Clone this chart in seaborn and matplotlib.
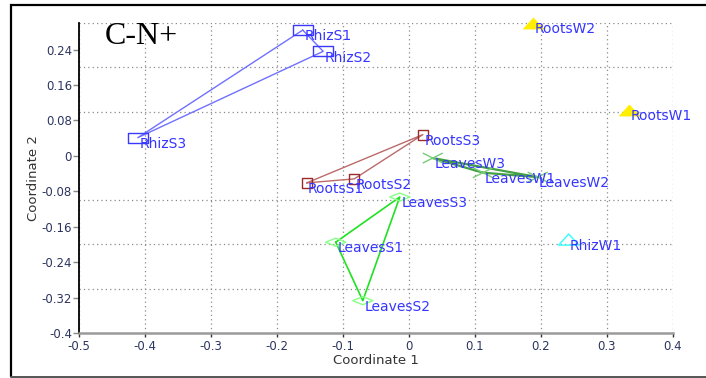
import numpy as np
import pandas as pd
import matplotlib
matplotlib.use("Agg")
import matplotlib.pyplot as plt
from matplotlib.path import Path
from matplotlib.patches import Polygon
from matplotlib.ticker import FixedLocator
import seaborn as sns

# Sample coordinates from the multidimensional scaling (C-N+ treatment)
labels = ["RhizS1", "RhizS2", "RhizS3",
          "RootsS1", "RootsS2", "RootsS3",
          "LeavesS1", "LeavesS2", "LeavesS3",
          "LeavesW1", "LeavesW2", "LeavesW3",
          "RootsW1", "RootsW2", "RhizW1"]
coord1 = [-0.161, -0.130, -0.411,
          -0.155, -0.083, 0.021,
          -0.111, -0.070, -0.014,
          0.112, 0.195, 0.036,
          0.334, 0.188, 0.242]
coord2 = [0.284, 0.236, 0.041,
          -0.061, -0.052, 0.048,
          -0.195, -0.327, -0.093,
          -0.038, -0.048, -0.005,
          0.103, 0.300, -0.189]
groups = ["RhizS"] * 3 + ["RootsS"] * 3 + ["LeavesS"] * 3 + ["LeavesW"] * 3 + \
         ["RootsW", "RootsW", "RhizW"]

x_ticks = [-0.5, -0.4, -0.3, -0.2, -0.1, 0, 0.1, 0.2, 0.3, 0.4]
x_ticklabels = ["-0.5", "-0.4", "-0.3", "-0.2", "-0.1", "0", "0.1", "0.2", "0.3", "0.4"]
y_ticks = [-0.4, -0.32, -0.24, -0.16, -0.08, 0, 0.08, 0.16, 0.24]
y_ticklabels = ["-0.4", "-0.32", "-0.24", "-0.16", "-0.08", "0", "0.08", "0.16", "0.24"]
y_grid = [-0.3, -0.2, -0.1, 0, 0.1, 0.2, 0.3]

df = pd.DataFrame({"label": labels, "c1": coord1, "c2": coord2, "group": groups})

sns.set_theme(style="white")
plt.rcParams["font.family"] = ["DejaVu Sans"]

W, H = 706, 378
fig = plt.figure(figsize=(W / 100, H / 100), dpi=100)
ax = fig.add_axes([79 / W, 1 - 333 / H, (673 - 79) / W, (333 - 23) / H])


# Wide (2:1) marker shapes
def mk(verts, codes=None):
    return Path(np.array(verts, float), codes)


rect = mk([(-1, -0.5), (1, -0.5), (1, 0.5), (-1, 0.5), (-1, -0.5)],
          [Path.MOVETO, Path.LINETO, Path.LINETO, Path.LINETO, Path.CLOSEPOLY])
diamond = mk([(-1, 0), (0, -0.4), (1, 0), (0, 0.4), (-1, 0)],
             [Path.MOVETO, Path.LINETO, Path.LINETO, Path.LINETO, Path.CLOSEPOLY])
cross = mk([(-1, -0.5), (1, 0.5), (-1, 0.5), (1, -0.5)],
           [Path.MOVETO, Path.LINETO, Path.MOVETO, Path.LINETO])
tri = mk([(-1, -0.55), (0, 0.55), (1, -0.55), (-1, -0.55)],
         [Path.MOVETO, Path.LINETO, Path.LINETO, Path.CLOSEPOLY])

styles = {
    "RhizS": dict(marker=rect, s=210, mcolor="#3a3aff", fill=False,
                  lcolor="#7070ff", lw=1.0),
    "RootsS": dict(marker="s", s=52, mcolor="#9a2a2a", fill=False,
                   lcolor="#bb6a6a", lw=1.0),
    "LeavesS": dict(marker=diamond, s=210, mcolor="#88ff88", fill=False,
                    lcolor="#22e022", lw=1.2),
    "LeavesW": dict(marker=cross, s=210, mcolor="#77cc77", fill=False,
                    lcolor="#44a044", lw=1.6),
    "RootsW": dict(marker=tri, s=210, mcolor="#ffee00", fill=True,
                   lcolor=None, lw=0),
    "RhizW": dict(marker=tri, s=210, mcolor="#33ffff", fill=False,
                  lcolor=None, lw=0),
}

# Replicate triangles connecting the three samples of each group
for g, st in styles.items():
    sub = df[df["group"] == g]
    if st["lcolor"] is not None and len(sub) == 3:
        loop = pd.concat([sub, sub.iloc[[0]]], ignore_index=True)
        sns.lineplot(data=loop, x="c1", y="c2", sort=False, estimator=None,
                     color=st["lcolor"], linewidth=st["lw"], ax=ax, zorder=2)

for g, st in styles.items():
    sub = df[df["group"] == g]
    if st["fill"]:
        sns.scatterplot(data=sub, x="c1", y="c2", marker=st["marker"], s=st["s"],
                        color=st["mcolor"], edgecolor=st["mcolor"], linewidth=0.5,
                        ax=ax, zorder=3, legend=False, clip_on=False)
    else:
        sns.scatterplot(data=sub, x="c1", y="c2", marker=st["marker"], s=st["s"],
                        color=st["mcolor"], facecolor="none", edgecolor=st["mcolor"],
                        linewidth=1.0, ax=ax, zorder=3, legend=False, clip_on=False)

for lab, xv, yv in zip(labels, coord1, coord2):
    ax.annotate(lab, (xv, yv), xytext=(1, -4.5), textcoords="offset points",
                ha="left", va="center", fontsize=10, color="#3535ff", zorder=4)

ax.set_xlim(-0.5, 0.4)
ax.set_ylim(-0.4, 0.3)

ax.xaxis.set_major_locator(FixedLocator(x_ticks))
ax.set_xticklabels(x_ticklabels)
ax.yaxis.set_major_locator(FixedLocator(y_ticks))
ax.set_yticklabels(y_ticklabels)
ax.yaxis.set_minor_locator(FixedLocator(y_grid))

grid_kw = dict(color="#8a8a8a", linewidth=0.9, linestyle=(0, (1, 2.5)))
ax.grid(False)
ax.xaxis.grid(True, which="major", **grid_kw)
ax.yaxis.grid(True, which="minor", **grid_kw)
ax.yaxis.grid(False, which="major")
ax.set_axisbelow(True)

for side in ["top", "right"]:
    ax.spines[side].set_visible(False)
ax.spines["left"].set_color("black")
ax.spines["left"].set_linewidth(1.3)
ax.spines["bottom"].set_color("#9a9a9a")
ax.spines["bottom"].set_linewidth(1.8)

ax.tick_params(axis="x", which="major", direction="out", length=3, width=1,
               color="#333333", labelsize=8.5, labelcolor="#2c3560", pad=2,
               bottom=True)
ax.tick_params(axis="y", which="major", direction="out", length=4, width=1,
               color="#888888", labelsize=8.5, labelcolor="#2c3560", pad=1,
               left=True)
ax.tick_params(axis="y", which="minor", length=0)

ax.set_xlabel("Coordinate 1", fontsize=9.5, color="#333333", labelpad=1)
ax.set_ylabel("Coordinate 2", fontsize=9.5, color="#333333", labelpad=1)

ax.text(105 / W, 1 - 37 / H, "C-N+", transform=fig.transFigure,
        fontsize=23, family="Liberation Serif", color="black",
        ha="left", va="center")

# Frame around the panel
frame = Polygon([(11 / W, 1 - 377 / H), (11 / W, 1 - 5 / H), (1.01, 1 - 5 / H)],
                closed=False, fill=False, edgecolor="black", linewidth=1.6,
                transform=fig.transFigure, clip_on=False)
fig.add_artist(frame)
fig.add_artist(plt.Line2D([11 / W, 1.01], [1 - 377 / H, 1 - 377 / H],
                          transform=fig.transFigure, color="#555555", linewidth=1.4))

fig.savefig("out.png", dpi=100)
